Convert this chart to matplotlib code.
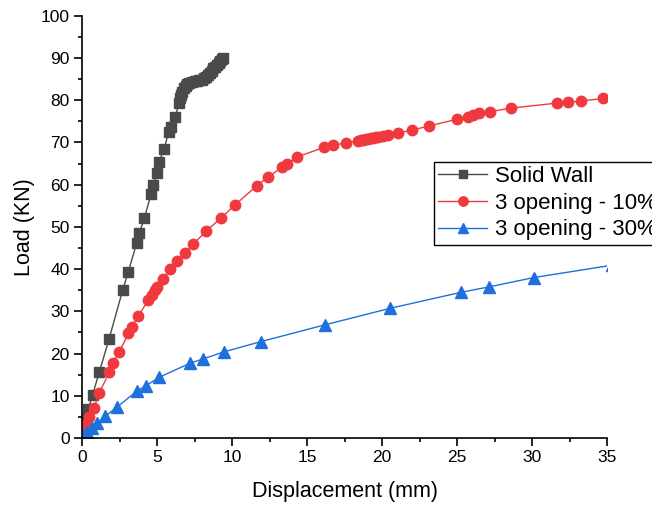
import matplotlib
matplotlib.use('Agg')
import matplotlib.pyplot as plt
from matplotlib.ticker import MultipleLocator

plt.rcParams['font.family'] = ['Liberation Sans', 'DejaVu Sans']

# Solid wall
solid_x = [0, 0.12, 0.25, 0.42, 0.71, 1.15, 1.8, 2.71, 3.09, 3.64, 3.82, 4.15, 4.6, 4.76,
           5.02, 5.13, 5.47, 5.78, 5.91, 6.2, 6.49, 6.53, 6.6, 6.68, 6.8, 6.9, 6.98, 7.1,
           7.31, 7.5, 7.64, 7.8, 7.98, 8.12, 8.27, 8.4, 8.53, 8.65, 8.76, 8.88, 8.98, 9.1,
           9.2, 9.32, 9.42]
solid_y = [0.5, 2.3, 4.3, 6.8, 10.3, 15.6, 23.4, 35.0, 39.4, 46.1, 48.5, 52.0, 57.7, 59.8,
           62.8, 65.4, 68.4, 72.5, 73.7, 76.1, 79.3, 80.4, 81.2, 82.0, 82.8, 83.3, 83.8, 84.1,
           84.4, 84.5, 84.6, 84.7, 84.8, 85.2, 85.6, 86.0, 86.4, 87.0, 87.5, 87.9, 88.3, 88.8,
           89.3, 89.7, 90.1]

# 3 opening - 10%
open10_x = [0, 0.2, 0.49, 0.8, 1.15, 1.82, 2.04, 2.49, 3.09, 3.31, 3.76, 4.42, 4.64, 4.87,
            5.02, 5.42, 5.87, 6.36, 6.89, 7.42, 8.27, 9.24, 10.2, 11.64, 12.38, 13.31, 13.69,
            14.36, 16.13, 16.76, 17.58, 18.42, 18.6, 18.76, 18.92, 19.09, 19.25, 19.42, 19.6,
            19.76, 20.09, 20.42, 21.09, 21.98, 23.15, 25.02, 25.71, 26.09, 26.47, 27.2, 28.58,
            31.64, 32.42, 33.24, 34.76]
open10_y = [1.9, 3.1, 4.9, 7.2, 10.6, 15.6, 17.7, 20.4, 24.8, 26.4, 28.9, 32.7, 33.9, 35.0,
            35.8, 37.7, 39.9, 41.8, 43.9, 45.9, 49.0, 52.0, 55.2, 59.7, 61.7, 64.1, 65.0,
            66.6, 68.8, 69.3, 69.9, 70.4, 70.5, 70.6, 70.75, 70.9, 71.0, 71.1, 71.2,
            71.3, 71.4, 71.7, 72.2, 72.9, 73.9, 75.5, 76.1, 76.4, 76.9, 77.3, 78.1,
            79.3, 79.5, 79.8, 80.4]

# 3 opening - 30%
open30_x = [0, 0.09, 0.31, 0.64, 1.02, 1.53, 2.36, 3.69, 4.27, 5.16, 7.2, 8.04, 9.47, 11.9,
            16.2, 20.53, 25.27, 27.16, 30.13, 35.3]
open30_y = [0, 0.7, 1.5, 2.3, 3.6, 5.1, 7.4, 11.2, 12.4, 14.4, 17.7, 18.7, 20.4, 22.8,
            26.8, 30.7, 34.5, 35.8, 38.0, 40.9]

fig = plt.figure(figsize=(6.52, 5.08), dpi=100)
ax = fig.add_axes([0.1258, 0.1378, 0.8052, 0.8313])

ax.plot(solid_x, solid_y, color='#4a4a4a', lw=1, marker='s', ms=6.5, label='Solid Wall')
ax.plot(open10_x, open10_y, color='#f0393f', lw=1, marker='o', ms=7.5, label='3 opening - 10%')
ax.plot(open30_x, open30_y, color='#1f6fdc', lw=1, marker='^', ms=8, label='3 opening - 30%')

ax.set_xlim(0, 35)
ax.set_ylim(0, 100)
ax.xaxis.set_major_locator(MultipleLocator(5))
ax.xaxis.set_minor_locator(MultipleLocator(2.5))
ax.yaxis.set_major_locator(MultipleLocator(10))
ax.yaxis.set_minor_locator(MultipleLocator(5))
ax.spines['top'].set_visible(False)
ax.spines['right'].set_visible(False)
for s in ['left', 'bottom']:
    ax.spines[s].set_linewidth(1.2)
ax.tick_params(which='major', length=6, width=1.2, labelsize=12.5, pad=3)
ax.tick_params(which='minor', length=3, width=1.2)

ax.set_xlabel('Displacement (mm)', fontsize=15.5, labelpad=11)
ax.set_ylabel('Load (KN)', fontsize=15.5, labelpad=4)

leg = ax.legend(loc='upper left', bbox_to_anchor=(0.670, 0.654), borderaxespad=0,
                fontsize=16, fancybox=False, edgecolor='black', framealpha=1,
                borderpad=0.2, labelspacing=0.25, handlelength=2.2, handletextpad=0.35,
                markerscale=0.9)
leg.get_frame().set_linewidth(1)

fig.savefig('out.png', dpi=100)
